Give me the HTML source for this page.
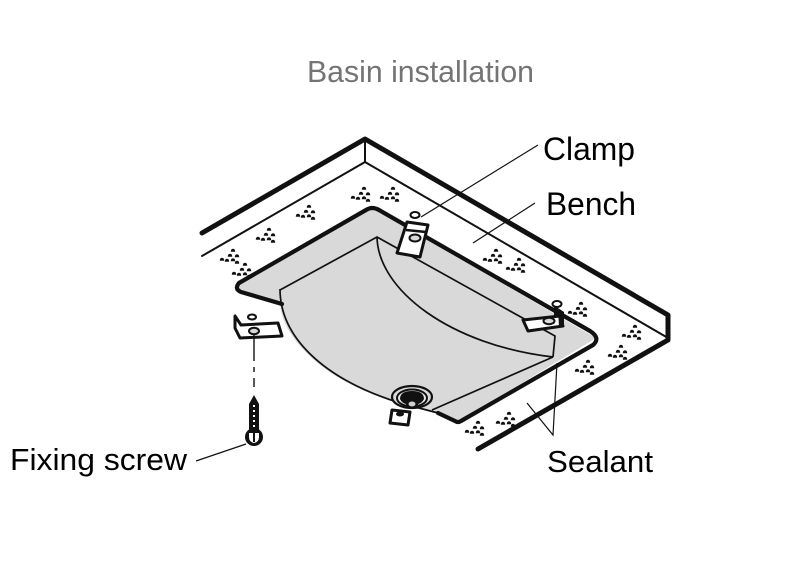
<!DOCTYPE html>
<html><head><meta charset="utf-8"><style>
html,body{margin:0;padding:0;background:#fff;}
svg{display:block;}
text{font-family:"Liberation Sans",Arial,sans-serif;}
</style></head><body>
<svg width="792" height="581" viewBox="0 0 792 581" xmlns="http://www.w3.org/2000/svg">
<defs>
<path id="b" d="M-2.2,1.2 Q-2.2,-1.8 0,-1.8 Q2.2,-1.8 2.2,1.2 Z"/>
<g id="c" fill="#111">
<use href="#b" x="3" y="-7.5"/>
<use href="#b" x="0" y="-2.5"/>
<use href="#b" x="7" y="-2"/>
<use href="#b" x="-8" y="1.5"/>
<use href="#b" x="-3" y="2.5"/>
<use href="#b" x="3" y="2"/>
<use href="#b" x="7" y="4.5"/>
</g>
</defs>

<text x="307" y="82" font-size="31" fill="#747474" textLength="227" lengthAdjust="spacingAndGlyphs">Basin installation</text>

<!-- bench -->
<g fill="none" stroke="#111" stroke-linecap="round" stroke-linejoin="round">
<polyline points="202,233 365,139 668,315 668,340 478,449" stroke-width="5"/>
<polyline points="202,256 365,162 668,338" stroke-width="2"/>
<line x1="365" y1="139" x2="365" y2="162" stroke-width="2"/>
</g>

<!-- sealant dots -->
<use href="#c" x="230" y="258"/>
<use href="#c" x="242" y="272"/>
<use href="#c" x="266" y="237"/>
<use href="#c" x="306" y="214"/>
<use href="#c" x="361" y="196"/>
<use href="#c" x="390" y="196"/>
<use href="#c" x="493" y="258"/>
<use href="#c" x="516" y="267"/>
<use href="#c" x="578" y="311"/>
<use href="#c" x="632" y="334"/>
<use href="#c" x="618" y="354"/>
<use href="#c" x="585" y="369"/>
<use href="#c" x="506" y="421"/>
<use href="#c" x="475" y="430"/>

<!-- basin fill -->
<path d="M238,285 L372,207 L596,338 L458,422 L438,413 L400,403 C330,385 282,340 280,304 L240,292 Z" fill="#d9d9d9"/>
<path d="M280,289 C280,340 322,380 400,403 L438,413 Z" fill="#d9d9d9"/>

<!-- bowl thin lines -->
<g fill="none" stroke="#111" stroke-width="1.7" stroke-linejoin="round">
<path d="M280,289 C280,335 320,378 400,403 L438,413"/>
<path d="M432,410 L553,357"/>
<path d="M280,290 L377,237 L555,336 L553,357"/>
<path d="M377,237 C378,290 450,345 553,357"/>
</g>

<!-- rim thick -->
<path d="M282,304 L241,292 Q234,289 239,283 L366,210 Q372,206 379,210 L590,331 Q601,338 593,345 L461,421 Q458,423 455,421 L438,413" fill="none" stroke="#111" stroke-width="4.2" stroke-linejoin="round" stroke-linecap="round"/>

<!-- drain -->
<ellipse cx="412" cy="397" rx="20" ry="11" fill="#d9d9d9" stroke="#111" stroke-width="2.2"/>
<ellipse cx="412" cy="398" rx="15" ry="8.5" fill="#e6e6e6" stroke="#111" stroke-width="2"/>
<path d="M400,399 Q400,391 412,391 Q424,391 424,399 Q422,403 418,404 Q418,409 412,409 Q406,409 406,404 Q402,403 400,399 Z" fill="#111"/>
<ellipse cx="412" cy="404" rx="3.5" ry="2.5" fill="#cfcfcf"/>

<!-- bottom clamp under drain -->
<path d="M392,410 L410,412 L408,425 L390,423 Z" fill="#fff" stroke="#111" stroke-width="3" stroke-linejoin="round"/>
<ellipse cx="400" cy="414" rx="4" ry="2.5" fill="#111"/>

<!-- top clamp -->
<ellipse cx="415" cy="215" rx="4.5" ry="3" fill="#fff" stroke="#111" stroke-width="2"/>
<path d="M407,222 L428,225 L420,257 L397,253 Z" fill="#fff" stroke="#111" stroke-width="3" stroke-linejoin="round"/>
<line x1="406" y1="230" x2="426" y2="232" stroke="#111" stroke-width="2.5"/>
<ellipse cx="415" cy="238" rx="5.5" ry="3.5" fill="#d9d9d9" stroke="#111" stroke-width="2"/>

<!-- right clamp -->
<path d="M556,304 L556,318" stroke="#111" stroke-width="4"/>
<ellipse cx="557" cy="304" rx="4.5" ry="3" fill="#fff" stroke="#111" stroke-width="2"/>
<path d="M523,320 L560,316 L563,326 L528,331 Z" fill="#fff" stroke="#111" stroke-width="3" stroke-linejoin="round"/>
<path d="M558,308 L564,312 L564,327 L559,327 Z" fill="#111"/>
<ellipse cx="549" cy="321" rx="5.5" ry="3.2" fill="#d9d9d9" stroke="#111" stroke-width="2"/>

<!-- left detached clamp -->
<ellipse cx="252" cy="317" rx="4" ry="2.5" fill="#fff" stroke="#111" stroke-width="2"/>
<path d="M235,316 L235,328 L240,338 L282,336 L278,323 L241,325 Z" fill="#fff" stroke="#111" stroke-width="3" stroke-linejoin="round"/>
<ellipse cx="254" cy="331" rx="5" ry="3.2" fill="#d9d9d9" stroke="#111" stroke-width="2"/>

<!-- dashed line -->
<g stroke="#111" stroke-width="1.4">
<line x1="254" y1="334" x2="254" y2="361"/>
<line x1="254" y1="367" x2="254" y2="372"/>
<line x1="254" y1="378" x2="254" y2="387"/>
</g>

<!-- screw -->
<path d="M254,395 L259,404 L259,430 L249,430 L249,404 Z" fill="#111"/>
<g fill="#fff"><rect x="253" y="405" width="2" height="2"/><rect x="253" y="410" width="2" height="2"/><rect x="253" y="415" width="2" height="2"/><rect x="253" y="420" width="2" height="2"/><rect x="253" y="425" width="2" height="2"/></g>
<circle cx="254" cy="437" r="9" fill="#111"/>
<path d="M249,433 L259,433 L259,437 Q259,442 254,443 Q249,442 249,437 Z" fill="#fff"/>
<rect x="253" y="433" width="2" height="9" fill="#111"/>

<!-- leaders -->
<g stroke="#111" stroke-width="1.2" fill="none">
<line x1="421" y1="217" x2="538" y2="145"/>
<line x1="473" y1="243" x2="535" y2="203"/>
<polyline points="557,363 553,435 527,403"/>
<line x1="196" y1="461" x2="246" y2="444"/>
</g>

<text x="543" y="160" font-size="32" fill="#000" textLength="92" lengthAdjust="spacingAndGlyphs">Clamp</text>
<text x="546" y="215" font-size="32" fill="#000" textLength="90" lengthAdjust="spacingAndGlyphs">Bench</text>
<text x="10" y="470" font-size="31" fill="#000" textLength="177" lengthAdjust="spacingAndGlyphs">Fixing screw</text>
<text x="547" y="472" font-size="31" fill="#000" textLength="106" lengthAdjust="spacingAndGlyphs">Sealant</text>
</svg>
</body></html>
